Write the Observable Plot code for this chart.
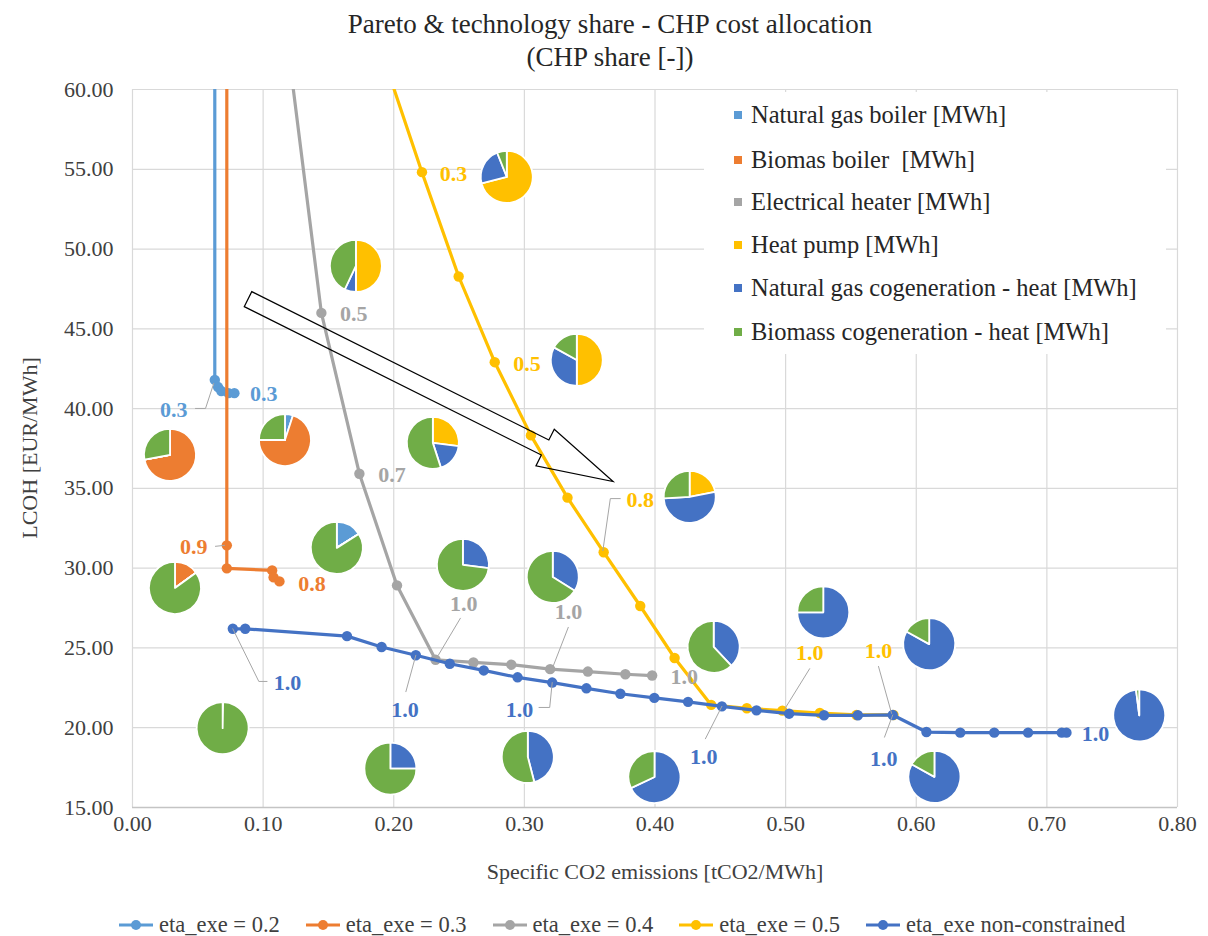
<!DOCTYPE html>
<html><head><meta charset="utf-8">
<script src="https://cdn.jsdelivr.net/npm/d3@7"></script>
<script src="https://cdn.jsdelivr.net/npm/@observablehq/plot@0.6"></script>
<style>
body{margin:0;background:#fff;font-family:"Liberation Serif","Times New Roman",serif;color:#404040;}
#wrap{position:relative;width:1208px;height:936px;overflow:hidden;}
#wrap > svg{position:absolute;left:0;top:0;}
#wrap > svg text{font-family:"Liberation Serif","Times New Roman",serif;}
.abs{position:absolute;white-space:pre;}
#title{left:0;top:8px;width:1220px;text-align:center;font-size:27px;line-height:33px;color:#262626;}
#xtitle{left:0;width:1310px;text-align:center;top:859px;font-size:22px;line-height:26px;}
#ytitle{left:30px;top:448px;font-size:22px;line-height:26px;transform:translate(-50%,-50%) rotate(-90deg);}
#legend{left:704px;top:92px;width:462px;height:262px;background:#fff;}
.lrow{position:absolute;left:30px;font-size:24.5px;line-height:30px;color:#262626;white-space:pre;}
.lsq{position:absolute;width:8px;height:8px;}
#blegend{left:118px;top:912px;display:flex;gap:25px;font-size:22.5px;line-height:26px;}
.bitem{display:flex;align-items:center;gap:5px;}
.bitem svg{display:block;}
</style></head>
<body>
<div id="wrap"></div>
<script>
// ---- data ----
const xTicks = [0, 0.1, 0.2, 0.3, 0.4, 0.5, 0.6, 0.7, 0.8];
const yTicks = [15, 20, 25, 30, 35, 40, 45, 50, 55, 60];

const seriesNames = ["eta_exe = 0.2", "eta_exe = 0.3", "eta_exe = 0.4", "eta_exe = 0.5", "eta_exe non-constrained"];
const seriesColors = ["#5B9BD5", "#ED7D31", "#A5A5A5", "#FFC000", "#4472C4"];

const eta02 = [[0.063, 95], [0.063, 41.8], [0.0655, 41.35], [0.068, 41.1], [0.0735, 40.97], [0.078, 40.97]];
const eta03 = [[0.0722, 95], [0.0722, 31.43], [0.0722, 29.99], [0.1069, 29.86], [0.108, 29.42], [0.1125, 29.17]];
const eta04 = [[0.117, 64], [0.1446, 46.0], [0.1737, 35.92], [0.2025, 28.92], [0.232, 24.26], [0.261, 24.09],
  [0.290, 23.95], [0.3197, 23.67], [0.3486, 23.52], [0.3773, 23.35], [0.3978, 23.27]];
const eta05 = [[0.188, 63], [0.2216, 54.82], [0.2497, 48.28], [0.2773, 42.91], [0.305, 38.32], [0.333, 34.42],
  [0.3607, 31.0], [0.3887, 27.63], [0.415, 24.37], [0.443, 21.43], [0.4703, 21.22], [0.4975, 21.07],
  [0.5262, 20.92], [0.5542, 20.8], [0.5826, 20.8]];
const etaFree = [[0.0768, 26.2], [0.0863, 26.2], [0.1642, 25.74], [0.1907, 25.06], [0.2169, 24.54], [0.2429, 24.01],
  [0.2689, 23.59], [0.2948, 23.16], [0.3213, 22.83], [0.3475, 22.47], [0.3735, 22.13], [0.3995, 21.87],
  [0.4253, 21.62], [0.4512, 21.34], [0.4777, 21.09], [0.5027, 20.88], [0.5294, 20.78], [0.5553, 20.78],
  [0.582, 20.8], [0.6078, 19.73], [0.6337, 19.69], [0.6597, 19.69], [0.6856, 19.69], [0.7114, 19.69], [0.715, 19.69]];
const allSeries = [eta02, eta03, eta04, eta05, etaFree];

const techNames = ["Natural gas boiler [MWh]", "Biomas boiler  [MWh]", "Electrical heater [MWh]", "Heat pump [MWh]",
  "Natural gas cogeneration - heat [MWh]", "Biomass cogeneration - heat [MWh]"];
const techColors = ["#5B9BD5", "#ED7D31", "#A5A5A5", "#FFC000", "#4472C4", "#70AD47"];

// pie position (x, y) and technology shares in techNames order
const pieX = [0.0291, 0.1171, 0.1714, 0.2869, 0.3405, 0.2303, 0.1568, 0.0329, 0.2533, 0.3221,
  0.4269, 0.4453, 0.5292, 0.6103, 0.7711, 0.6143, 0.40, 0.303, 0.1978, 0.0694];
const pieY = [37.07, 38.0, 48.91, 54.49, 43.02, 37.82, 31.24, 28.73, 30.18, 29.42,
  34.44, 25.04, 27.2, 25.21, 20.74, 16.89, 16.88, 18.14, 17.41, 19.94];
const pieShares = [
  [0, 72, 0, 0, 0, 28], [5, 70, 0, 0, 0, 25], [0, 0, 0, 50, 7, 43], [0, 0, 0, 71, 23, 6],
  [0, 0, 0, 50, 33, 17], [0, 0, 0, 27, 18, 55], [16, 0, 0, 0, 0, 84], [0, 15, 0, 0, 0, 85],
  [0, 0, 0, 0, 27, 73], [0, 0, 0, 0, 34, 66], [0, 0, 0, 22, 52, 26], [0, 0, 0, 0, 38, 62],
  [0, 0, 0, 0, 75, 25], [0, 0, 0, 0, 83, 17], [0, 0, 0, 0, 98, 2], [0, 0, 0, 0, 83, 17],
  [0, 0, 0, 0, 68, 32], [0, 0, 0, 0, 46, 54], [0, 0, 0, 0, 25, 75], [0, 0, 0, 0, 0.3, 99.7]];

// data labels: text, x, y, series index
const dataLabels = [
  ["0.3", 0.0316, 39.89, 0], ["0.3", 0.1005, 40.93, 0],
  ["0.9", 0.0469, 31.32, 1], ["0.8", 0.1375, 29.03, 1],
  ["0.5", 0.1693, 45.95, 2], ["0.7", 0.1987, 35.86, 2], ["1.0", 0.2535, 27.78, 2], ["1.0", 0.3338, 27.25, 2], ["1.0", 0.4224, 23.2, 2],
  ["0.3", 0.2458, 54.72, 3], ["0.5", 0.302, 42.81, 3], ["0.8", 0.3887, 34.25, 3], ["1.0", 0.5184, 24.68, 3], ["1.0", 0.5711, 24.79, 3],
  ["1.0", 0.1186, 22.78, 4], ["1.0", 0.2087, 21.1, 4], ["1.0", 0.2962, 21.1, 4], ["1.0", 0.4373, 18.15, 4], ["1.0", 0.5751, 18.05, 4], ["1.0", 0.7373, 19.58, 4]];

// leader lines for labels
const leaders = [
  [[0.0482, 40.01], [0.0559, 40.01], [0.0622, 41.58]],
  [[0.0635, 31.37], [0.0705, 31.43]],
  [[0.251, 26.86], [0.2341, 24.54]],
  [[0.3336, 26.29], [0.3214, 23.72]],
  [[0.3734, 34.36], [0.3658, 34.36], [0.3601, 31.1]],
  [[0.0768, 26.2], [0.0967, 22.9], [0.1030, 22.9]],
  [[0.2169, 24.54], [0.2093, 22.26]],
  [[0.3213, 22.83], [0.3194, 21.27], [0.3112, 21.27]],
  [[0.4512, 21.34], [0.4386, 19.31]],
  [[0.582, 20.8], [0.5757, 19.41]],
  [[0.5184, 23.7], [0.4995, 21.2]],
  [[0.5711, 23.84], [0.5811, 20.9]]];

// hollow annotation arrow: from, to
const arrowFrom = [0.0888, 46.83];
const arrowTo = [0.3683, 35.4];

// ---- build ----
const lineRows = allSeries.flatMap((pts, s) => pts.map(([x, y]) => ({s, x, y, c: seriesColors[s]})));
const labelRows = dataLabels.map(([t, x, y, s]) => ({t, x, y, c: seriesColors[s]}));
const leaderRows = leaders.flatMap((pts, id) => pts.map(([x, y]) => ({id, x, y})));

function pieMark(index, scales) {
  const g = d3.create("svg:g");
  const arc = d3.arc().innerRadius(0).outerRadius(26);
  const pie = d3.pie().sort(null).value(d => d);
  pieShares.forEach((shares, i) => {
    const cx = scales.x(pieX[i]), cy = scales.y(pieY[i]);
    g.append("g").attr("transform", `translate(${cx},${cy})`)
      .selectAll("path").data(pie(shares)).join("path")
      .attr("d", arc).attr("fill", (d, k) => techColors[k])
      .attr("stroke", "#fff").attr("stroke-width", 1.8).attr("stroke-linejoin", "round");
  });
  return g.node();
}

function arrowMark(index, scales) {
  const x0 = scales.x(arrowFrom[0]), y0 = scales.y(arrowFrom[1]);
  const x1 = scales.x(arrowTo[0]), y1 = scales.y(arrowTo[1]);
  const L = Math.hypot(x1 - x0, y1 - y0);
  const ang = Math.atan2(y1 - y0, x1 - x0) * 180 / Math.PI;
  const sw = 8.4, hw = 20.5, hl = 76;
  const pts = [[0, -sw], [L - hl, -sw], [L - hl, -hw], [L, 0], [L - hl, hw], [L - hl, sw], [0, sw]];
  return d3.create("svg:path").attr("d", "M" + pts.join("L") + "Z")
    .attr("transform", `translate(${x0},${y0}) rotate(${ang})`)
    .attr("fill", "none").attr("stroke", "#000").attr("stroke-width", 1.2).node();
}

const marks = [
  Plot.ruleX(xTicks, {stroke: "#d9d9d9", strokeWidth: 1.2}),
  Plot.ruleY(yTicks, {stroke: "#d9d9d9", strokeWidth: 1.2}),
  Plot.ruleY([15], {stroke: "#c4c4c4", strokeWidth: 1.5})
];
allSeries.forEach((pts, s) => {
  const rows = lineRows.filter(d => d.s === s);
  marks.push(Plot.line(rows, {x: "x", y: "y", stroke: "c", strokeWidth: 3.2, clip: true}));
  marks.push(Plot.dot(rows, {x: "x", y: "y", fill: "c", r: 5.2, clip: true}));
});
marks.push(arrowMark);
marks.push(Plot.line(leaderRows, {x: "x", y: "y", z: "id", stroke: "#A6A6A6", strokeWidth: 1}));
marks.push(Plot.text(labelRows, {x: "x", y: "y", text: "t", fill: "c", fontWeight: "bold", fontSize: 22,
  fontFamily: "'Liberation Serif', serif", textAnchor: "middle", lineAnchor: "middle"}));
marks.push(pieMark);

const chart = Plot.plot({
  width: 1208, height: 936,
  marginTop: 89, marginBottom: 129, marginLeft: 132, marginRight: 31,
  style: {fontFamily: "'Liberation Serif', 'Times New Roman', serif", fontSize: "22px", color: "#404040", background: "transparent"},
  color: {type: "identity"},
  x: {domain: [0, 0.8], ticks: xTicks, tickFormat: d3.format(".2f"), tickSize: 0, tickPadding: 8, label: null},
  y: {domain: [15, 60], ticks: yTicks, tickFormat: d3.format(".2f"), tickSize: 0, tickPadding: 19, label: null},
  marks
});

const wrap = document.getElementById("wrap");
wrap.appendChild(chart);

function addDiv(id, cls, html) {
  const d = document.createElement("div");
  if (id) d.id = id;
  d.className = cls;
  d.innerHTML = html;
  wrap.appendChild(d);
  return d;
}
addDiv("title", "abs", "Pareto &amp; technology share - CHP cost allocation\n(CHP share [-])");
addDiv("xtitle", "abs", "Specific CO2 emissions [tCO2/MWh]");
addDiv("ytitle", "abs", "LCOH [EUR/MWh]");

// top-right legend
const leg = addDiv("legend", "abs", "");
const rowY = [23, 68, 109.7, 153, 196.3, 239.7];
techNames.forEach((n, i) => {
  const sq = document.createElement("div");
  sq.className = "lsq";
  sq.style.left = "30px"; sq.style.top = (rowY[i] - 4) + "px"; sq.style.background = techColors[i];
  leg.appendChild(sq);
  const t = document.createElement("div");
  t.className = "lrow";
  t.style.left = "47px"; t.style.top = (rowY[i] - 15) + "px";
  t.textContent = n;
  leg.appendChild(t);
});

// bottom legend
const bl = addDiv("blegend", "abs", "");
seriesNames.forEach((n, i) => {
  const it = document.createElement("div");
  it.className = "bitem";
  it.innerHTML = `<svg width="36" height="14"><line x1="1" y1="7" x2="35" y2="7" stroke="${seriesColors[i]}" stroke-width="3"/><circle cx="18" cy="7" r="5" fill="${seriesColors[i]}"/></svg><span>${n}</span>`;
  bl.appendChild(it);
});
</script>
</body></html>
